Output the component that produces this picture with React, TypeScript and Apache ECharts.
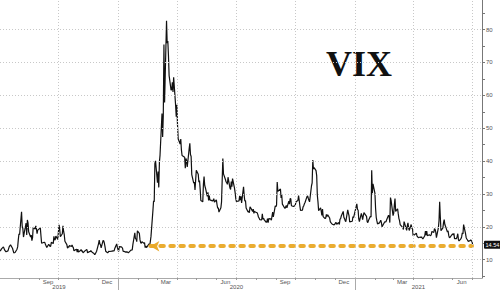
import React, { useEffect, useRef } from "react";
import * as echarts from "echarts";

const title = "VIX";
const lastValue = 14.54;
const arrowLevel = 14.1;
const arrowStart = "2020-02-20";
const arrowEnd = "2021-07-01";

const vix2019: [string, number][] = [
  ["07-03",12.6],["07-05",13.3],["07-08",13.9],["07-10",12.9],["07-12",12.4],["07-15",12.7],["07-17",14.0],["07-19",14.5],["07-22",13.5],["07-24",12.1],["07-26",12.2],["07-29",13.2],["07-30",13.9],["07-31",16.1],
  ["08-01",17.9],["08-02",17.6],["08-05",24.6],["08-06",20.2],["08-07",19.5],["08-08",16.9],["08-09",18.0],["08-12",21.1],["08-13",17.5],["08-14",22.1],["08-15",21.2],["08-16",18.5],["08-19",16.9],["08-20",17.5],["08-21",15.8],["08-22",16.7],["08-23",19.9],["08-26",19.3],["08-27",20.3],["08-28",19.4],["08-29",17.9],["08-30",19.0],
  ["09-03",19.7],["09-04",17.3],["09-05",15.0],["09-06",15.0],["09-09",15.3],["09-10",15.2],["09-11",14.6],["09-12",14.2],["09-13",13.7],["09-16",14.7],["09-17",14.4],["09-18",14.0],["09-19",14.1],["09-20",15.3],["09-23",14.9],["09-24",17.1],["09-25",16.0],["09-26",16.1],["09-27",17.2],["09-30",16.2],
  ["10-01",18.6],["10-02",20.6],["10-03",19.1],["10-04",17.0],["10-07",17.9],["10-08",20.3],["10-09",18.6],["10-10",17.6],["10-11",15.6],["10-14",14.6],["10-15",13.5],["10-16",14.0],["10-17",13.8],["10-18",14.3],["10-21",14.0],["10-22",14.5],["10-23",14.0],["10-24",13.7],["10-25",12.7],["10-28",13.1],["10-29",13.2],["10-30",12.3],["10-31",13.2],
  ["11-01",12.3],["11-04",12.8],["11-05",13.1],["11-06",12.6],["11-07",12.7],["11-08",12.1],["11-11",12.7],["11-12",12.7],["11-13",13.0],["11-14",13.1],["11-15",12.1],["11-18",12.5],["11-19",12.4],["11-20",12.8],["11-21",12.8],["11-22",12.3],["11-25",11.9],["11-26",11.5],["11-27",11.8],["11-29",12.6],
  ["12-02",14.9],["12-03",16.0],["12-04",14.8],["12-05",14.5],["12-06",13.6],["12-09",15.9],["12-10",15.7],["12-11",15.0],["12-12",13.9],["12-13",12.6],["12-16",12.1],["12-17",12.3],["12-18",12.6],["12-19",12.5],["12-20",12.5],["12-23",12.6],["12-24",12.7],["12-26",12.7],["12-27",13.4],["12-30",14.8],["12-31",13.8],
];

const vix2020: [string, number][] = [
  ["01-02",12.5],["01-03",14.0],["01-06",13.9],["01-07",13.8],["01-08",13.5],["01-09",12.5],["01-10",12.6],["01-13",12.3],["01-14",12.4],["01-15",12.4],["01-16",12.3],["01-17",12.1],["01-21",12.9],["01-22",12.9],["01-23",13.0],["01-24",14.6],["01-27",18.2],["01-28",16.3],["01-29",16.4],["01-30",15.5],["01-31",18.8],
  ["02-03",18.0],["02-04",16.1],["02-05",15.2],["02-06",15.0],["02-07",15.5],["02-10",15.0],["02-11",15.2],["02-12",13.7],["02-13",14.2],["02-14",13.7],["02-18",14.8],["02-19",14.4],["02-20",15.6],["02-21",17.1],["02-24",25.0],["02-25",27.9],["02-26",27.6],["02-27",39.2],["02-28",40.1],
  ["03-02",33.4],["03-03",36.8],["03-04",32.0],["03-05",39.6],["03-06",41.9],["03-09",54.5],["03-10",47.3],["03-11",53.9],["03-12",75.5],["03-13",57.8],["03-16",82.7],["03-17",75.9],["03-18",76.5],["03-19",72.0],["03-20",66.0],["03-23",61.6],["03-24",61.7],["03-25",64.0],["03-26",61.0],["03-27",65.5],["03-30",57.1],["03-31",53.5],
  ["04-01",57.1],["04-02",50.9],["04-03",46.8],["04-06",45.2],["04-07",46.7],["04-08",43.4],["04-09",41.7],["04-13",41.2],["04-14",37.8],["04-15",40.8],["04-16",40.1],["04-17",38.2],["04-20",43.8],["04-21",45.4],["04-22",42.0],["04-23",41.4],["04-24",35.9],["04-27",33.3],["04-28",33.6],["04-29",31.2],["04-30",34.2],
  ["05-01",37.2],["05-04",36.0],["05-05",33.6],["05-06",34.1],["05-07",31.4],["05-08",28.0],["05-11",27.6],["05-12",33.0],["05-13",35.3],["05-14",32.6],["05-15",31.9],["05-18",29.3],["05-19",30.5],["05-20",28.0],["05-21",29.5],["05-22",28.2],["05-26",27.9],["05-27",28.0],["05-28",28.6],["05-29",27.5],
  ["06-01",28.2],["06-02",26.8],["06-03",25.7],["06-04",25.8],["06-05",24.5],["06-08",25.8],["06-09",27.6],["06-10",27.6],["06-11",40.8],["06-12",36.1],["06-15",34.4],["06-16",33.7],["06-17",33.5],["06-18",32.9],["06-19",35.1],["06-22",31.8],["06-23",31.4],["06-24",33.8],["06-25",32.2],["06-26",34.7],["06-29",31.8],["06-30",30.4],
  ["07-01",28.6],["07-02",27.7],["07-06",27.9],["07-07",29.4],["07-08",28.1],["07-09",29.3],["07-10",27.3],["07-13",32.2],["07-14",29.5],["07-15",27.8],["07-16",28.0],["07-17",25.7],["07-20",24.5],["07-21",24.8],["07-22",24.3],["07-23",26.1],["07-24",25.8],["07-27",24.7],["07-28",25.4],["07-29",24.1],["07-30",24.8],["07-31",24.5],
  ["08-03",24.3],["08-04",23.8],["08-05",23.0],["08-06",22.7],["08-07",22.2],["08-10",22.1],["08-11",24.0],["08-12",22.3],["08-13",22.6],["08-14",22.1],["08-17",21.4],["08-18",21.5],["08-19",22.5],["08-20",21.3],["08-21",22.5],["08-24",22.4],["08-25",22.0],["08-26",23.3],["08-27",24.5],["08-28",23.0],["08-31",26.4],
  ["09-01",26.1],["09-02",26.6],["09-03",33.6],["09-04",30.8],["09-08",31.5],["09-09",28.8],["09-10",29.7],["09-11",26.9],["09-14",25.9],["09-15",25.6],["09-16",26.0],["09-17",26.5],["09-18",25.8],["09-21",27.8],["09-22",26.9],["09-23",28.6],["09-24",28.5],["09-25",26.4],["09-28",26.2],["09-29",26.3],["09-30",26.4],
  ["10-01",26.7],["10-02",27.6],["10-05",28.0],["10-06",29.5],["10-07",28.1],["10-08",26.4],["10-09",25.0],["10-12",25.1],["10-13",26.1],["10-14",26.4],["10-15",27.0],["10-16",27.4],["10-19",29.2],["10-20",29.4],["10-21",28.7],["10-22",28.1],["10-23",27.6],["10-26",32.5],["10-27",33.4],["10-28",40.3],["10-29",37.6],["10-30",38.0],
  ["11-02",37.1],["11-03",35.6],["11-04",29.6],["11-05",27.6],["11-06",24.9],["11-09",25.8],["11-10",24.8],["11-11",23.5],["11-12",25.4],["11-13",23.1],["11-16",22.5],["11-17",22.7],["11-18",23.8],["11-19",23.1],["11-20",23.7],["11-23",22.7],["11-24",21.6],["11-25",21.3],["11-27",20.8],["11-30",20.6],
  ["12-01",20.8],["12-02",21.2],["12-03",21.3],["12-04",20.8],["12-07",21.3],["12-08",20.7],["12-09",22.3],["12-10",22.5],["12-11",23.3],["12-14",24.7],["12-15",22.9],["12-16",22.5],["12-17",21.9],["12-18",21.6],["12-21",25.2],["12-22",24.2],["12-23",23.3],["12-24",21.5],["12-28",21.7],["12-29",23.1],["12-30",22.8],["12-31",22.8],
];

const vix2021: [string, number][] = [
  ["01-04",27.0],["01-05",25.3],["01-06",25.1],["01-07",22.4],["01-08",21.6],["01-11",24.1],["01-12",23.3],["01-13",22.2],["01-14",23.3],["01-15",24.3],["01-19",23.2],["01-20",21.6],["01-21",21.3],["01-22",21.9],["01-25",23.2],["01-26",23.0],["01-27",37.2],["01-28",30.2],["01-29",33.1],
  ["02-01",30.2],["02-02",25.6],["02-03",22.9],["02-04",21.8],["02-05",20.9],["02-08",21.2],["02-09",21.6],["02-10",22.0],["02-11",21.3],["02-12",20.0],["02-16",21.5],["02-17",21.5],["02-18",21.5],["02-19",22.1],["02-22",23.5],["02-23",23.1],["02-24",21.3],["02-25",28.9],["02-26",28.0],
  ["03-01",23.4],["03-02",24.1],["03-03",26.7],["03-04",28.6],["03-05",24.7],["03-08",25.5],["03-09",24.0],["03-10",22.6],["03-11",21.9],["03-12",20.7],["03-15",20.0],["03-16",19.8],["03-17",19.2],["03-18",21.6],["03-19",21.0],["03-22",18.9],["03-23",20.3],["03-24",21.2],["03-25",19.8],["03-26",18.9],["03-29",20.7],["03-30",19.6],["03-31",19.4],
  ["04-01",17.3],["04-05",17.9],["04-06",18.1],["04-07",17.2],["04-08",17.0],["04-09",16.7],["04-12",16.9],["04-13",16.7],["04-14",17.0],["04-15",16.6],["04-16",16.3],["04-19",17.3],["04-20",18.7],["04-21",17.5],["04-22",18.7],["04-23",17.3],["04-26",17.6],["04-27",17.6],["04-28",17.3],["04-29",17.6],["04-30",18.6],
  ["05-03",18.3],["05-04",19.5],["05-05",19.2],["05-06",18.4],["05-07",16.7],["05-10",19.7],["05-11",21.8],["05-12",27.6],["05-13",23.1],["05-14",18.8],["05-17",19.7],["05-18",21.3],["05-19",22.2],["05-20",20.7],["05-21",20.2],["05-24",18.4],["05-25",18.8],["05-26",17.4],["05-27",16.7],["05-28",16.8],
  ["06-01",17.9],["06-02",17.5],["06-03",18.0],["06-04",16.4],["06-07",16.4],["06-08",17.1],["06-09",17.9],["06-10",16.1],["06-11",15.7],["06-14",16.4],["06-15",17.0],["06-16",18.2],["06-17",17.8],["06-18",20.7],["06-21",17.9],["06-22",16.7],["06-23",16.3],["06-24",16.0],["06-25",15.6],["06-28",15.8],["06-29",16.0],["06-30",15.8],
  ["07-01",15.5],["07-02",14.54],
];

const yTickLabels = [10, 20, 30, 40, 50, 60, 70, 80];
const yMinorTicks = [5, 10, 15, 20, 25, 30, 35, 40, 45, 50, 55, 60, 65, 70, 75, 80, 85];
const monthLabelDates = ["2019-09-15", "2019-12-15", "2020-03-15", "2020-06-15", "2020-09-15", "2020-12-15", "2021-03-15", "2021-06-15"];
const quarterStarts = ["2019-10-01", "2020-01-01", "2020-04-01", "2020-07-01", "2020-10-01", "2021-01-01", "2021-04-01", "2021-07-01"];
const yearStarts = ["2020-01-01", "2021-01-01"];
const yearNames = ["2019", "2020", "2021"];
const monthNames = ["Jan", "Feb", "Mar", "Apr", "May", "Jun", "Jul", "Aug", "Sep", "Oct", "Nov", "Dec"];

const toTs = (s: string) => {
  const [y, m, d] = s.split("-").map(Number);
  return new Date(y, m - 1, d).getTime();
};

export default function App() {
  const ref = useRef<HTMLDivElement>(null);
  useEffect(() => {
    if (!ref.current) return;
    const chart = echarts.init(ref.current, undefined, { renderer: "svg" });

    const data = [
      ...vix2019.map(([d, v]) => [toTs("2019-" + d), v]),
      ...vix2020.map(([d, v]) => [toTs("2020-" + d), v]),
      ...vix2021.map(([d, v]) => [toTs("2021-" + d), v]),
    ];

    const xMin = new Date(2019, 6, 2, 17).getTime();
    const xMax = new Date(2021, 6, 16, 10).getTime();
    const monthTicks: number[] = [];
    for (let y = 2019; y <= 2021; y++) {
      for (let m = 0; m < 12; m++) {
        const t = new Date(y, m, 1).getTime();
        if (t > xMin && t < xMax) monthTicks.push(t);
      }
    }
    const yb = yearStarts.map(toTs);
    const yearBounds = [xMin, ...yb, xMax];
    const yearCenters = yearNames.map((_, i) => (yearBounds[i] + yearBounds[i + 1]) / 2);
    const monthLabelTs = monthLabelDates.map(toTs);

    const gridStyle = { color: "#c8c8c8", type: [1, 2] as any, width: 1 };
    const fontFamily = "Liberation Sans, Arial, sans-serif";

    chart.setOption({
      animation: false,
      backgroundColor: "#fff",
      grid: { left: 0, right: 18, top: 0, bottom: 12, containLabel: false },
      xAxis: [
        {
          type: "value",
          min: xMin,
          max: xMax,
          position: "bottom",
          axisLine: { show: true, onZero: false, lineStyle: { color: "#aaa", width: 1 } },
          axisTick: { show: true, customValues: monthTicks, length: 2, lineStyle: { color: "#999" } },
          axisLabel: {
            customValues: monthLabelTs,
            formatter: (v: number) => monthNames[new Date(v).getMonth()],
            fontSize: 6,
            color: "#555",
            margin: 1,
            fontFamily,
          },
          splitLine: { show: false },
        },
        {
          type: "value",
          min: xMin,
          max: xMax,
          position: "bottom",
          offset: 0,
          axisLine: { show: false, onZero: false },
          axisTick: { show: true, customValues: yb, length: 12, lineStyle: { color: "#aaa" } },
          axisLabel: {
            customValues: yearCenters,
            formatter: (v: number) => {
              let best = 0;
              yearCenters.forEach((c, i) => {
                if (Math.abs(c - v) < Math.abs(yearCenters[best] - v)) best = i;
              });
              return yearNames[best];
            },
            fontSize: 6,
            color: "#555",
            margin: 6,
            fontFamily,
          },
          splitLine: { show: false },
        },
      ],
      yAxis: {
        type: "value",
        position: "right",
        min: 4.44,
        max: 89,
        axisLine: { show: true, lineStyle: { color: "#777", width: 1 } },
        axisTick: { show: true, customValues: yMinorTicks, length: 3, lineStyle: { color: "#777" } },
        axisLabel: {
          customValues: yTickLabels,
          fontSize: 6,
          color: "#555",
          margin: 4,
          fontFamily,
        },
        splitLine: { show: false },
      },
      series: [
        {
          type: "line",
          name: "grid",
          data: [],
          silent: true,
          markLine: {
            silent: true,
            symbol: "none",
            label: { show: false },
            lineStyle: gridStyle,
            data: [
              ...quarterStarts.map((d) => ({ xAxis: toTs(d) })),
              ...yTickLabels.map((v) => ({ yAxis: v })),
            ],
          },
        },
        {
          type: "line",
          name: "VIX",
          data,
          showSymbol: false,
          symbol: "none",
          lineStyle: { color: "#111", width: 1.2 },
          z: 3,
        },
        {
          type: "line",
          name: "arrow",
          data: [],
          silent: true,
          z: 4,
          markLine: {
            silent: true,
            z: 4,
            symbol: ["arrow", "none"],
            symbolSize: [8, 9],
            label: { show: false },
            lineStyle: { color: "#E9A825", width: 4, type: [3.5, 6.5], cap: "round", opacity: 0.95 },
            itemStyle: { color: "#E9A825" },
            data: [
              [
                { coord: [toTs(arrowStart), arrowLevel] },
                { coord: [toTs(arrowEnd), arrowLevel] },
              ],
            ],
          },
        },
        {
          type: "line",
          name: "last",
          data: [],
          silent: true,
          clip: false,
          z: 5,
          markLine: {
            silent: true,
            symbol: "none",
            lineStyle: { width: 0.01, color: "rgba(0,0,0,0)" },
            label: {
              show: true,
              position: "end",
              distance: 2,
              formatter: String(lastValue),
              backgroundColor: "#111",
              color: "#fff",
              fontSize: 5.5,
              padding: [1, 1.5],
              borderRadius: 1,
              fontFamily,
            },
            data: [{ yAxis: lastValue }],
          },
        },
      ],
      graphic: [
        {
          type: "text",
          left: 326,
          top: 46,
          style: {
            text: title,
            font: "bold 36px 'Liberation Serif', 'Times New Roman', serif",
            fill: "#111",
          },
        },
      ],
    });

    return () => chart.dispose();
  }, []);

  return (
    <div
      ref={ref}
      style={{ position: "absolute", left: 0, top: 0, width: 500, height: 290 }}
    />
  );
}
